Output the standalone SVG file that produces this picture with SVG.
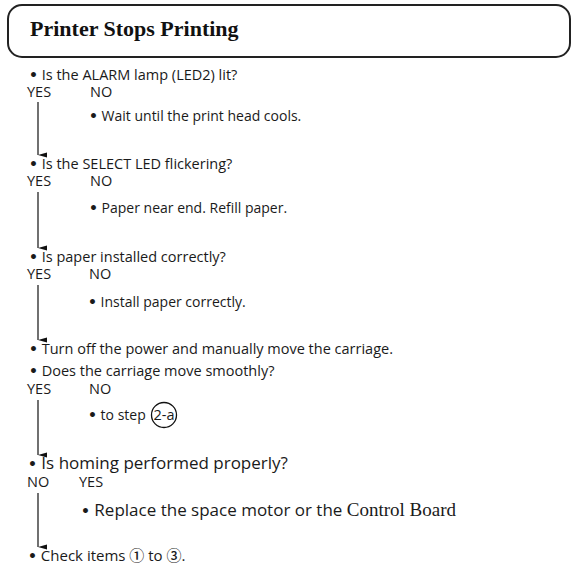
<svg xmlns="http://www.w3.org/2000/svg" width="574" height="573" viewBox="0 0 574 573">
<style>
.t{font-family:"Open Sans","Noto Sans",sans-serif;font-size:14.5px;font-weight:500;fill:#1a1a1a}
.a{font-size:14px}
.b{font-family:"DejaVu Sans",sans-serif;font-size:14px;font-weight:bold}
.big{font-size:17px}
.s{font-family:"Liberation Serif",serif;font-size:19px;font-weight:normal;fill:#1a1a1a}
.h{font-family:"Liberation Serif",serif;font-size:22px;font-weight:bold;fill:#111}
.c{font-family:"Open Sans","Noto Sans CJK JP",sans-serif;font-size:15px;font-weight:500;fill:#1a1a1a}
.ln{stroke:#111;stroke-width:1.2;fill:none;marker-end:url(#ah)}
</style>
<defs>
<marker id="ah" markerWidth="8" markerHeight="10" refX="4" refY="9" orient="auto" markerUnits="userSpaceOnUse">
<path d="M1.5,0 L4,9 L6.5,0 Z" fill="#111" stroke="none"/>
</marker>
</defs>
<rect width="574" height="573" fill="#fff"/>
<g id="title">
<rect x="8" y="5" width="562" height="52" rx="14" ry="14" fill="none" stroke="#222" stroke-width="2"/>
<text class="h" x="30" y="36">Printer Stops Printing</text>
</g>
<g id="q1">
<text class="t" x="29" y="80"><tspan class="b">•</tspan> Is the ALARM lamp (LED2) lit?</text>
<text class="t" x="27" y="97">YES</text>
<text class="t" x="90" y="97">NO</text>
</g>
<g id="a1"><text class="t a" x="89" y="121"><tspan class="b">•</tspan> Wait until the print head cools.</text></g>
<g id="q2">
<text class="t" x="29" y="169"><tspan class="b">•</tspan> Is the SELECT LED flickering?</text>
<text class="t" x="27" y="186">YES</text>
<text class="t" x="90" y="186">NO</text>
</g>
<g id="a2"><text class="t a" x="89" y="213"><tspan class="b">•</tspan> Paper near end. Refill paper.</text></g>
<g id="q3">
<text class="t" x="29" y="262"><tspan class="b">•</tspan> Is paper installed correctly?</text>
<text class="t" x="27" y="279">YES</text>
<text class="t" x="89" y="279">NO</text>
</g>
<g id="a3"><text class="t a" x="88" y="307"><tspan class="b">•</tspan> Install paper correctly.</text></g>
<g id="q4">
<text class="t" x="29" y="354"><tspan class="b">•</tspan> Turn off the power and manually move the carriage.</text>
<text class="t" x="29" y="376"><tspan class="b">•</tspan> Does the carriage move smoothly?</text>
<text class="t" x="27" y="394">YES</text>
<text class="t" x="89" y="394">NO</text>
</g>
<g id="a4">
<text class="t a" x="88" y="420"><tspan class="b">•</tspan> to step</text>
<circle cx="164" cy="415" r="12.5" fill="none" stroke="#111" stroke-width="1.3"/>
<text class="t" x="164" y="420" text-anchor="middle">2-a</text>
</g>
<g id="q5">
<text class="t big" x="28" y="469"><tspan class="b">•</tspan> Is homing performed properly?</text>
<text class="t" x="27" y="487">NO</text>
<text class="t" x="79" y="487">YES</text>
</g>
<g id="a5"><text class="t big" x="81" y="516"><tspan class="b">•</tspan> Replace the space motor or the <tspan class="s">Control Board</tspan></text></g>
<g id="end"><text class="c" x="28" y="561"><tspan class="b">•</tspan> Check items ① to ③.</text></g>
<g id="connectors">
<line class="ln" x1="38" y1="102" x2="38" y2="155"/>
<line class="ln" x1="38" y1="192" x2="38" y2="248"/>
<line class="ln" x1="38" y1="285" x2="38" y2="340"/>
<line class="ln" x1="38" y1="400" x2="38" y2="455"/>
<line class="ln" x1="38" y1="493" x2="38" y2="547"/>
</g>
</svg>
